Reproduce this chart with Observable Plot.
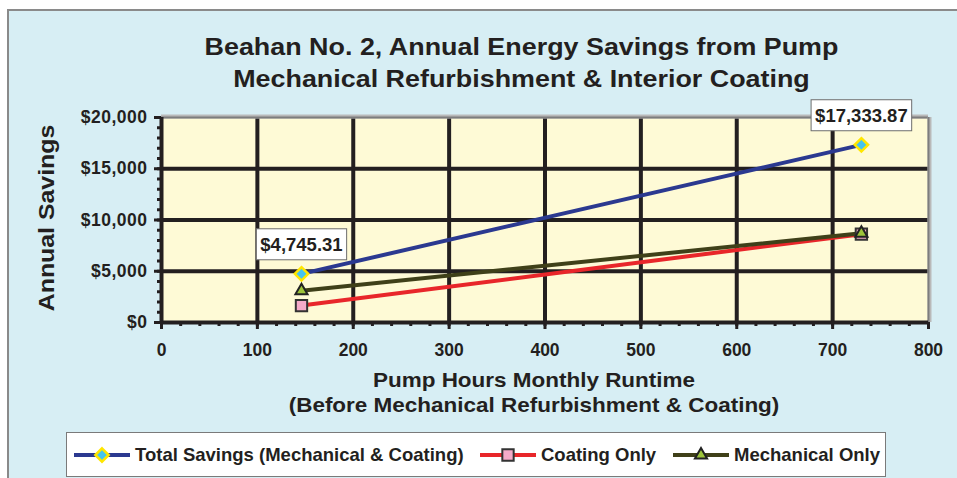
<!DOCTYPE html>
<html>
<head>
<meta charset="utf-8">
<script src="https://cdn.jsdelivr.net/npm/d3@7"></script>
<script src="https://cdn.jsdelivr.net/npm/@observablehq/plot@0.6"></script>
<style>
  html, body { margin: 0; padding: 0; background: #fff; }
  body { font-family: "Liberation Sans", Arial, sans-serif; color: #231F20; }
  #wrap { position: relative; width: 957px; height: 478px; overflow: hidden; background: #fff; }
  #panel { position: absolute; left: 7px; top: 9px; width: 960px; height: 480px;
           background: #D7EEF4; border-left: 2px solid #8a8a8a; border-top: 2px solid #8a8a8a; }
  #title { position: absolute; left: 0; width: 1043px; top: 31px; text-align: center;
           font-weight: bold; font-size: 23.7px; line-height: 32px; color: #231F20;
           transform: scaleX(1.135); transform-origin: 521.5px 0; }
  #ylabel { position: absolute; left: 47px; top: 218px; line-height: 22px;
            transform: translate(-50%, -50%) rotate(-90deg) scaleX(1.13);
            white-space: nowrap; font-weight: bold; font-size: 22px; color: #231F20; }
  #xlabel { position: absolute; left: 0; width: 1068px; top: 367px; text-align: center;
            font-weight: bold; font-size: 21px; line-height: 25px; color: #231F20;
            transform: scaleX(1.07); transform-origin: 534px 0; }
  #chart { position: absolute; left: 0; top: 0; }
  #legend { position: absolute; left: 66px; top: 432px; width: 818px; height: 43px;
            background: #fff; border: 1px solid #7a7a7a; }
  .item { position: absolute; top: 0; height: 43px; display: flex; align-items: center;
          font-weight: bold; font-size: 18.5px; color: #231F20; white-space: nowrap; }
  .item svg { margin-right: 5px; }
</style>
</head>
<body>
<div id="wrap">
  <div id="panel"></div>
  <div id="title">Beahan No. 2, Annual Energy Savings from Pump<br>Mechanical Refurbishment &amp; Interior Coating</div>
  <div id="ylabel">Annual Savings</div>
  <div id="xlabel">Pump Hours Monthly Runtime<br>(Before Mechanical Refurbishment &amp; Coating)</div>
  <div id="chart"></div>
  <div id="legend"></div>
</div>
<script>
// ---- data ----
const hours = [146, 730];
const totalSavings = [4745.31, 17333.87];
const coatingOnly = [1650, 8620];
const mechanicalOnly = [3095, 8714];
const seriesNames = ["Total Savings (Mechanical & Coating)", "Coating Only", "Mechanical Only"];
const xTicks = [0, 100, 200, 300, 400, 500, 600, 700, 800];
const yTicks = [0, 5000, 10000, 15000, 20000];
const xMinorTicks = d3.range(0, 801, 20);
const yMinorTicks = d3.range(0, 20001, 1000);
const labelPoints = [0, 1]; // indices of total-savings points carrying labels

// ---- styles ----
const styles = {
  [seriesNames[0]]: {line: "#2B3990", symbol: "diamond2", d3sym: d3.symbolDiamond2, fill: "#45C4EE", stroke: "#FFE600", r: 6.0, sw: 2.5},
  [seriesNames[1]]: {line: "#E8262A", symbol: "square", d3sym: d3.symbolSquare, fill: "#F5AAC9", stroke: "#333", r: 6.4, sw: 2},
  [seriesNames[2]]: {line: "#3F4019", symbol: "triangle", d3sym: d3.symbolTriangle, fill: "#9DC43A", stroke: "#222", r: 4.5, sw: 2}
};
const seriesValues = [totalSavings, coatingOnly, mechanicalOnly];
const rows = seriesNames.map((name, k) => hours.map((h, i) => ({series: name, x: h, y: seriesValues[k][i]})));
const labelRows = labelPoints.map(i => ({x: hours[i], y: totalSavings[i],
  text: "$" + d3.format(",.2f")(totalSavings[i])}));

const fmtY = d => "$" + d3.format(",")(d);

const marks = [
  Plot.frame({fill: "#FEFAD6", stroke: null}),
  Plot.ruleX(xTicks.filter(d => d > 0 && d < 800), {stroke: "#231F20", strokeWidth: 4}),
  Plot.ruleY(yTicks.filter(d => d > 0 && d < 20000), {stroke: "#231F20", strokeWidth: 4}),
  // top/right gray border with slight shadow
  Plot.ruleY([20000], {stroke: "#b9b9b9", strokeWidth: 4, dy: -1}),
  Plot.ruleY([20000], {stroke: "#7d7d7d", strokeWidth: 2}),
  Plot.ruleX([800], {stroke: "#b9b9b9", strokeWidth: 4, dx: 1}),
  Plot.ruleX([800], {stroke: "#7d7d7d", strokeWidth: 2}),
  // axes
  Plot.axisX({ticks: xMinorTicks, tickSize: 4, strokeWidth: 3, stroke: "#231F20", tickFormat: () => "", label: null}),
  Plot.axisX({ticks: xTicks, tickSize: 7, strokeWidth: 3, stroke: "#231F20", tickPadding: 14,
    fontSize: 17.5, fontWeight: "bold", fill: "#231F20", label: null}),
  Plot.axisY({ticks: yMinorTicks, tickSize: 4, strokeWidth: 3, stroke: "#231F20", tickFormat: () => "", label: null}),
  Plot.axisY({ticks: yTicks, tickSize: 7, strokeWidth: 3, stroke: "#231F20", tickPadding: 7,
    tickFormat: fmtY, fontSize: 17.5, fontWeight: "bold", fill: "#231F20", label: null, className: "yticklab"}),
  Plot.ruleX([0], {stroke: "#231F20", strokeWidth: 4}),
  Plot.ruleY([0], {stroke: "#231F20", strokeWidth: 4}),
];
// series lines and markers
rows.forEach(r => {
  const s = styles[r[0].series];
  marks.push(Plot.line(r, {x: "x", y: "y", stroke: s.line, strokeWidth: 4}));
});
rows.forEach(r => {
  const s = styles[r[0].series];
  marks.push(Plot.dot(r, {x: "x", y: "y", symbol: s.symbol, r: s.r, fill: s.fill, stroke: s.stroke, strokeWidth: s.sw}));
});
// data labels
marks.push(Plot.text(labelRows, {x: "x", y: "y", text: "text", dy: -29, fontSize: 18.5, fontWeight: "bold",
  fill: "#231F20", className: "datalabel"}));

const chart = Plot.plot({
  width: 957, height: 478,
  marginLeft: 161, marginRight: 29, marginTop: 117, marginBottom: 156,
  x: {domain: [0, 800]},
  y: {domain: [0, 20000]},
  style: {background: "transparent", overflow: "visible", fontFamily: "Liberation Sans, Arial, sans-serif"},
  marks
});
document.getElementById("chart").appendChild(chart);

d3.select(chart).selectAll("g.yticklab text").attr("letter-spacing", "0.5");

// boxes behind data labels
d3.select(chart).selectAll("g.datalabel text").each(function() {
  const b = this.getBBox();
  const px = 4, py = 5;
  d3.select(this.parentNode).insert("rect", () => this)
    .attr("x", b.x - px).attr("y", b.y - py)
    .attr("width", b.width + 2 * px).attr("height", b.height + 2 * py)
    .attr("fill", "#fff").attr("stroke", "#6d6d6d").attr("stroke-width", 1)
    .attr("transform", this.getAttribute("transform"));
});

// legend
const legendPos = [7, 413, 606];
const legend = d3.select("#legend");
seriesNames.forEach((name, k) => {
  const s = styles[name];
  const item = legend.append("div").attr("class", "item").style("left", legendPos[k] + "px");
  const svg = item.append("svg").attr("width", 56).attr("height", 20);
  svg.append("line").attr("x1", 0).attr("x2", 56).attr("y1", 10).attr("y2", 10)
    .attr("stroke", s.line).attr("stroke-width", 4);
  svg.append("path").attr("transform", "translate(28,10)")
    .attr("d", d3.symbol(s.d3sym, Math.PI * s.r * s.r)())
    .attr("fill", s.fill).attr("stroke", s.stroke).attr("stroke-width", s.sw);
  item.append("span").text(name);
});
</script>
</body>
</html>
